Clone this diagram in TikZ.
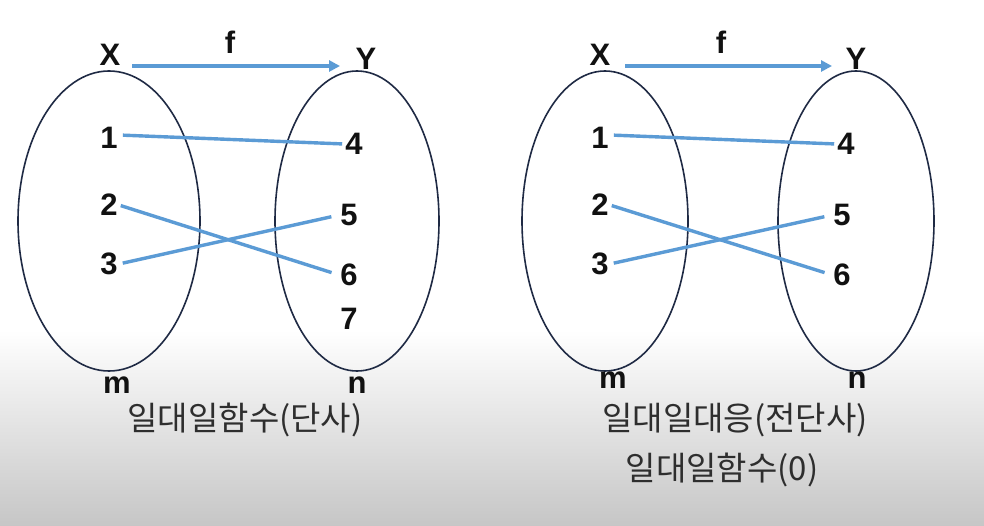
\documentclass[tikz,border=0pt]{standalone}
\usepackage{fontspec}
\setmainfont{Liberation Sans}
\newfontfamily\kofont{Noto Sans CJK KR}
\usetikzlibrary{arrows.meta}
\definecolor{lineblue}{HTML}{5B9BD5}
\definecolor{ellcol}{HTML}{1F2A44}
\definecolor{txtcol}{HTML}{111111}
\definecolor{kocol}{HTML}{2E2E2E}
\definecolor{bggray}{HTML}{C6C6C6}
\begin{document}
\begin{tikzpicture}[x=1pt,y=-1pt,
  setell/.style={draw=ellcol,line width=1.6pt},
  lab/.style={font=\fontsize{31}{36}\selectfont\bfseries,text=txtcol,inner sep=1pt},
  kor/.style={font=\kofont\fontsize{33}{38}\selectfont,text=kocol,inner sep=1pt},
  map/.style={draw=lineblue,line width=3.4pt},
  farrow/.style={draw=lineblue,line width=3.2pt,-{Triangle[length=11pt,width=11pt]}}]
\useasboundingbox (0,0) rectangle (984,526);
\fill[white] (0,0) rectangle (984,330);
\shade[top color=white,bottom color=bggray] (0,330) rectangle (984,526);
% left diagram
\draw[setell] (109,221) ellipse [x radius=91,y radius=150];
\draw[setell] (357,221) ellipse [x radius=82,y radius=150];
\node[lab] (X1) at (110,55) {X};
\node[lab] (Y1) at (366,59) {Y};
\node[lab] (f1) at (230,42) {f};
\coordinate (xa1) at (132,66);
\coordinate (ya1) at (340,66);
\draw[farrow] (xa1) -- (ya1);
\node[lab] (a1) at (109,138) {1};
\node[lab] (a2) at (109,205) {2};
\node[lab] (a3) at (109,264) {3};
\node[lab] (b4) at (354,144) {4};
\node[lab] (b5) at (349,215) {5};
\node[lab] (b6) at (349,275) {6};
\node[lab] (b7) at (349,319) {7};
\draw[map,shorten <=4pt,shorten >=2pt] (a1.east) ++(0,-3) coordinate (s1) (s1) -- (b4.west);
\draw[map,shorten <=2pt,shorten >=8pt] (a2.east) -- (b6.west);
\draw[map,shorten <=4pt,shorten >=8pt] (a3.east) -- (b5.west);
\node[lab] (m1) at (117,385) {m};
\node[lab] (n1) at (357,385) {n};
\node[kor] (t1) at (245,420) {일대일함수(단사)};
% right diagram
\draw[setell] (605,221) ellipse [x radius=83,y radius=150];
\draw[setell] (856,221) ellipse [x radius=78,y radius=150];
\node[lab] (X2) at (600,55) {X};
\node[lab] (Y2) at (856,59) {Y};
\node[lab] (f2) at (721,42) {f};
\coordinate (xa2) at (625,66);
\coordinate (ya2) at (832,66);
\draw[farrow] (xa2) -- (ya2);
\node[lab] (c1) at (600,138) {1};
\node[lab] (c2) at (600,205) {2};
\node[lab] (c3) at (600,264) {3};
\node[lab] (d4) at (846,144) {4};
\node[lab] (d5) at (842,215) {5};
\node[lab] (d6) at (842,275) {6};
\draw[map,shorten <=4pt,shorten >=2pt] (c1.east) ++(0,-3) coordinate (s2) (s2) -- (d4.west);
\draw[map,shorten <=2pt,shorten >=8pt] (c2.east) -- (d6.west);
\draw[map,shorten <=4pt,shorten >=8pt] (c3.east) -- (d5.west);
\node[lab] (m2) at (613,380) {m};
\node[lab] (n2) at (857,380) {n};
\node[kor] (t2) at (735,420) {일대일대응(전단사)};
\node[kor] (t3) at (722,470) {일대일함수(0)};
\end{tikzpicture}
\end{document}
